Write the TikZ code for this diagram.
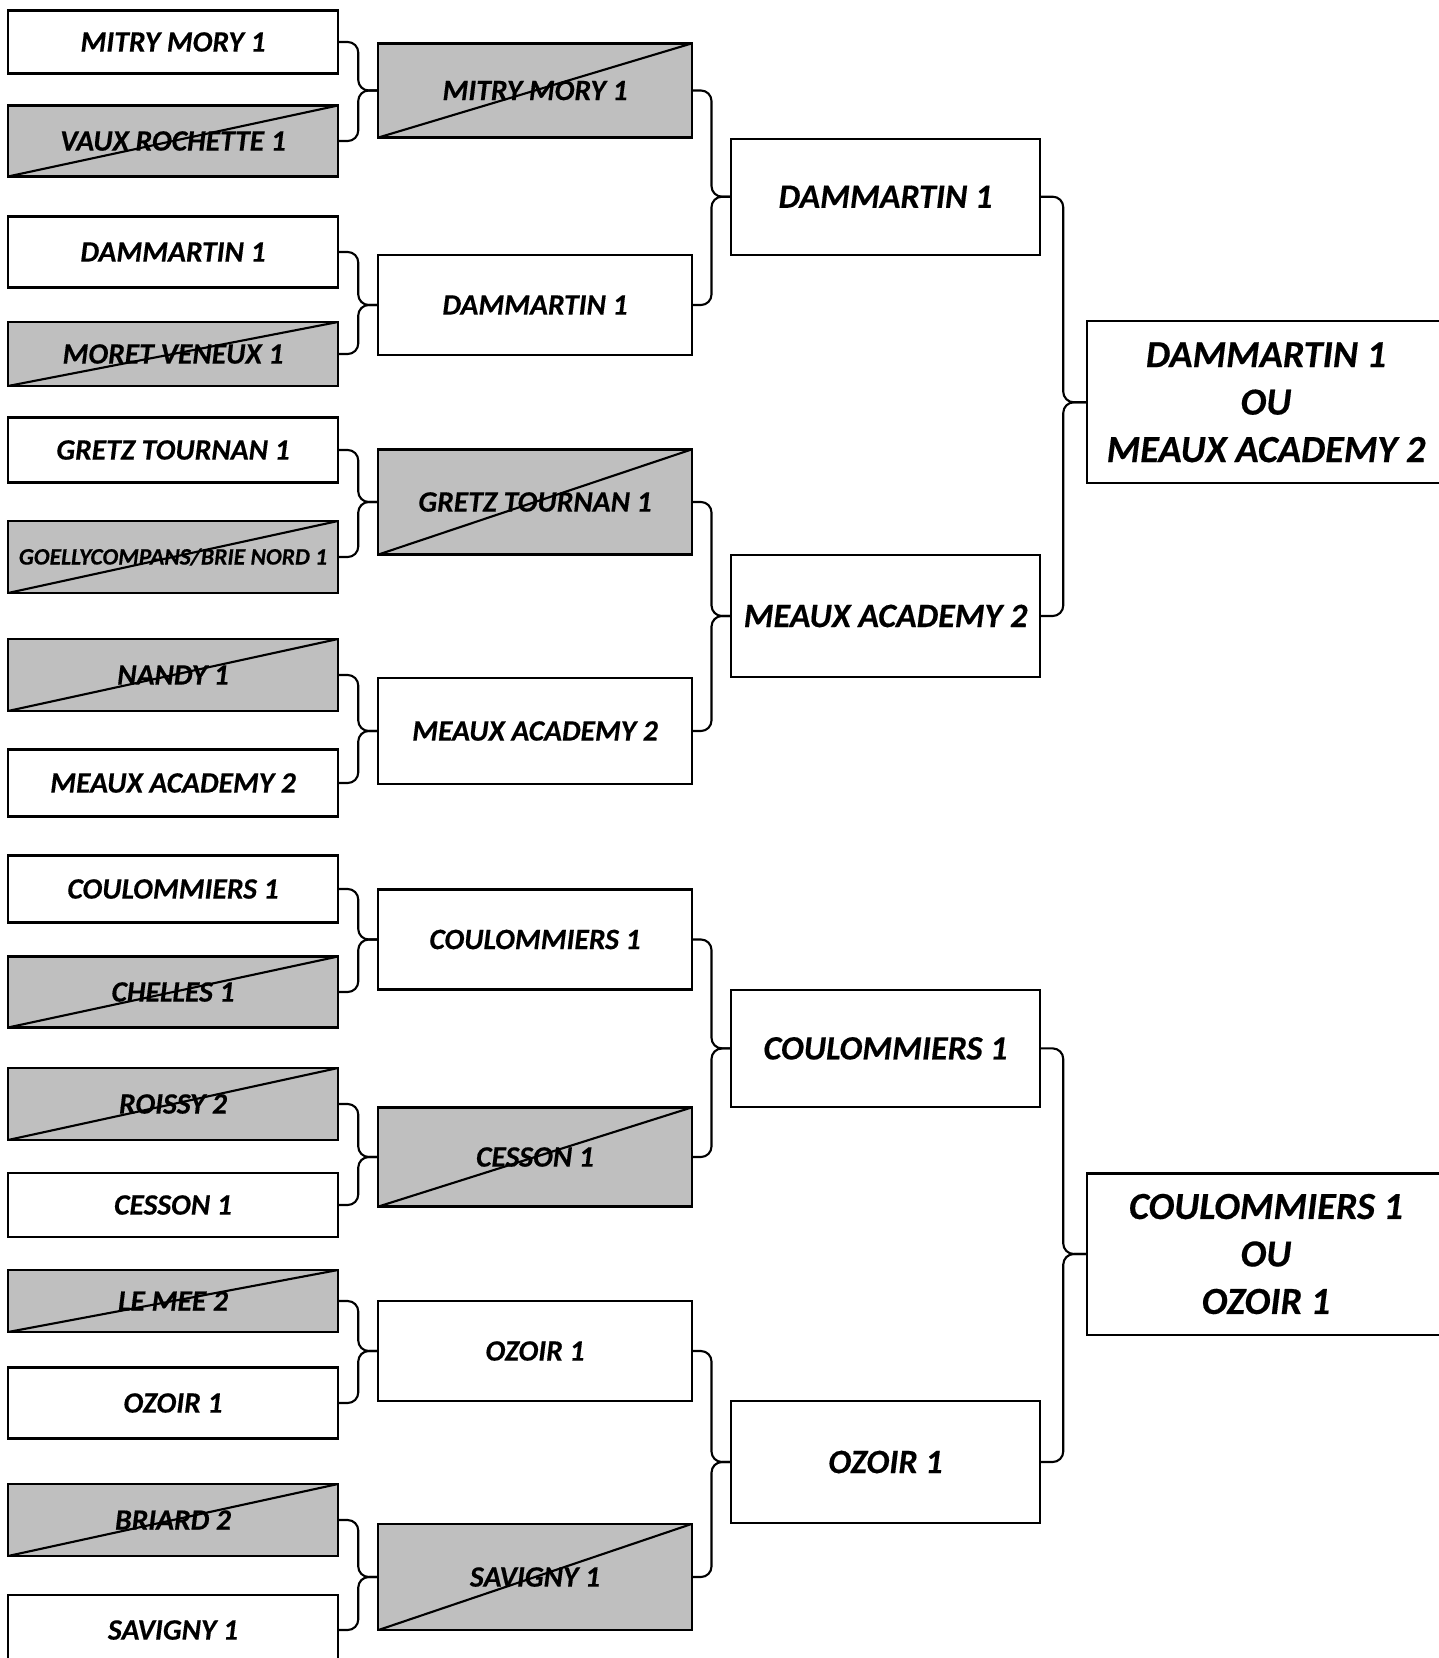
\documentclass[tikz,border=0pt]{standalone}
\usepackage{fontspec}
\setmainfont{Carlito}[BoldItalicFeatures={FakeBold=0.4}]
\usetikzlibrary{calc}
\definecolor{lostgray}{RGB}{191,191,191}

\begin{document}
\begin{tikzpicture}[x=0.01cm, y=-0.01cm,
    box/.style={draw, line width=0.6pt, inner sep=0pt, align=center},
    lostbox/.style={box, fill=lostgray, path picture={\draw[line width=0.6pt]
        (path picture bounding box.south west) -- (path picture bounding box.north east);}},
    colA/.style={minimum width=3.30cm, font=\fontsize{8.4}{10}\selectfont\bfseries\itshape},
    colB/.style={minimum width=3.13cm, font=\fontsize{8.4}{10}\selectfont\bfseries\itshape},
    colC/.style={minimum width=3.08cm, font=\fontsize{9.7}{12}\selectfont\bfseries\itshape},
    colD/.style={minimum width=3.58cm, font=\fontsize{10.9}{13.5}\selectfont\bfseries\itshape},
    bracket/.style={line width=0.6pt, rounded corners=3pt}]
  \path[use as bounding box, fill=white] (0,0) rectangle (1438,1658);

  % first round
  \node[box, colA, minimum height=0.63cm] (a1) at (173,42) {MITRY MORY 1};
  \node[lostbox, colA, minimum height=0.71cm] (a2) at (173,141) {VAUX ROCHETTE 1};
  \node[box, colA, minimum height=0.71cm] (a3) at (173,252) {DAMMARTIN 1};
  \node[lostbox, colA, minimum height=0.64cm] (a4) at (173,354) {MORET VENEUX 1};
  \node[box, colA, minimum height=0.65cm] (a5) at (173,450) {GRETZ TOURNAN 1};
  \node[lostbox, colA, minimum height=0.72cm, font=\fontsize{6.7}{8}\selectfont\bfseries\itshape] (a6) at (173,557) {GOELLYCOMPANS/BRIE NORD 1};
  \node[lostbox, colA, minimum height=0.72cm] (a7) at (173,675) {NANDY 1};
  \node[box, colA, minimum height=0.67cm] (a8) at (173,783) {MEAUX ACADEMY 2};
  \node[box, colA, minimum height=0.67cm] (a9) at (173,889) {COULOMMIERS 1};
  \node[lostbox, colA, minimum height=0.71cm] (a10) at (173,992) {CHELLES 1};
  \node[lostbox, colA, minimum height=0.72cm] (a11) at (173,1104) {ROISSY 2};
  \node[box, colA, minimum height=0.64cm] (a12) at (173,1205) {CESSON 1};
  \node[lostbox, colA, minimum height=0.62cm] (a13) at (173,1301) {LE MEE 2};
  \node[box, colA, minimum height=0.71cm] (a14) at (173,1403) {OZOIR 1};
  \node[lostbox, colA, minimum height=0.72cm] (a15) at (173,1520) {BRIARD 2};
  \node[box, colA, minimum height=0.70cm] (a16) at (173,1630) {SAVIGNY 1};

  % second round
  \node[lostbox, colB, minimum height=0.94cm] (b1) at (535,90.5) {MITRY MORY 1};
  \node[box, colB, minimum height=1.00cm] (b2) at (535,305) {DAMMARTIN 1};
  \node[lostbox, colB, minimum height=1.05cm] (b3) at (535,502) {GRETZ TOURNAN 1};
  \node[box, colB, minimum height=1.06cm] (b4) at (535,731) {MEAUX ACADEMY 2};
  \node[box, colB, minimum height=1.00cm] (b5) at (535,939.5) {COULOMMIERS 1};
  \node[lostbox, colB, minimum height=0.99cm] (b6) at (535,1157) {CESSON 1};
  \node[box, colB, minimum height=1.00cm] (b7) at (535,1351) {OZOIR 1};
  \node[lostbox, colB, minimum height=1.06cm] (b8) at (535,1577) {SAVIGNY 1};

  % third round
  \node[box, colC, minimum height=1.16cm] (c1) at (885.5,196.7) {DAMMARTIN 1};
  \node[box, colC, minimum height=1.22cm] (c2) at (885.5,616) {MEAUX ACADEMY 2};
  \node[box, colC, minimum height=1.17cm] (c3) at (885.5,1048.4) {COULOMMIERS 1};
  \node[box, colC, minimum height=1.22cm] (c4) at (885.5,1462) {OZOIR 1};

  % last round
  \node[box, colD, minimum height=1.62cm] (d1) at (1266,402.3) {DAMMARTIN 1\\OU\\MEAUX ACADEMY 2};
  \node[box, colD, minimum height=1.61cm] (d2) at (1266,1254) {COULOMMIERS 1\\OU\\OZOIR 1};

  % brackets
  \foreach \home/\away/\winner in {a1/a2/b1, a3/a4/b2, a5/a6/b3, a7/a8/b4,
      a9/a10/b5, a11/a12/b6, a13/a14/b7, a15/a16/b8,
      b1/b2/c1, b3/b4/c2, b5/b6/c3, b7/b8/c4, c1/c2/d1, c3/c4/d2}
  {
    \draw[bracket] (\home.east) -- ($(\home.east)!0.5!(\winner.west |- \home.east)$) |- (\winner.west);
    \draw[bracket] (\away.east) -- ($(\away.east)!0.5!(\winner.west |- \away.east)$) |- (\winner.west);
  }
\end{tikzpicture}
\end{document}
